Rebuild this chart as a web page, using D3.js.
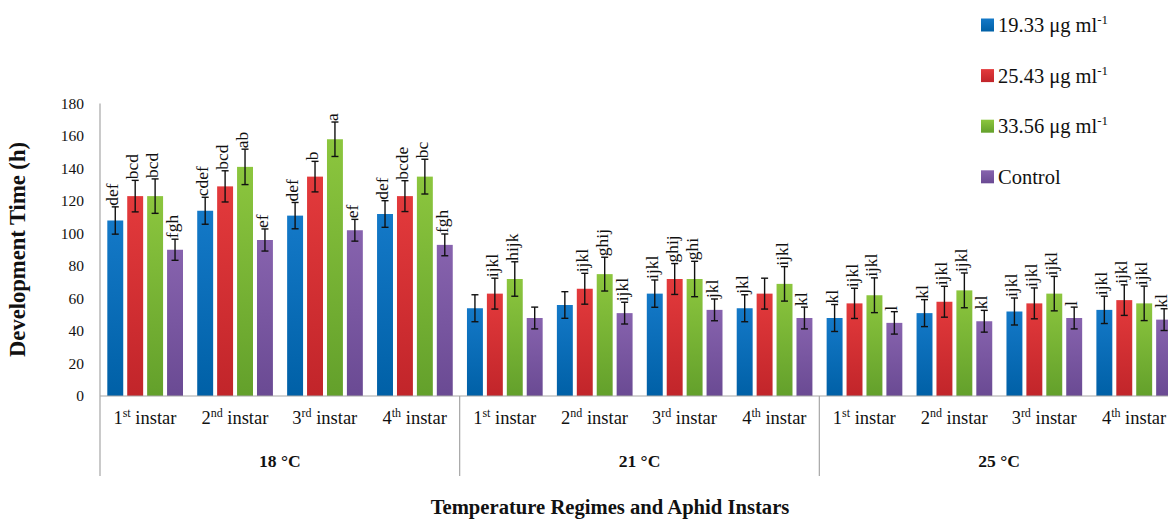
<!DOCTYPE html>
<html>
<head>
<meta charset="utf-8">
<script src="https://cdn.jsdelivr.net/npm/d3@7"></script>
<style>
  body { margin: 0; background: #fff; }
  svg text { fill: #111; }
</style>
</head>
<body>
<div id="chart"></div>
<script>
// temperature regimes and instars (x categories)
var temps = ["18 °C", "21 °C", "25 °C"];
var instarNum = ["1", "2", "3", "4"];
var instarSup = ["st", "nd", "rd", "th"];
var seriesNames = ["19.33 μg ml", "25.43 μg ml", "33.56 μg ml", "Control"];
var seriesSup = ["-1", "-1", "-1", ""];
var yTicks = [0, 20, 40, 60, 80, 100, 120, 140, 160, 180];

// mean development time (h), 12 categories each
var conc1 = [108, 114, 111, 112, 54, 56, 63, 54, 48, 51, 52, 53];
var conc2 = [123, 129, 135, 123, 63, 66, 72, 63, 57, 58, 57, 59];
var conc3 = [123, 141, 158, 135, 72, 75, 72, 69, 62, 65, 63, 57];
var control = [90, 96, 102, 93, 48, 51, 53, 48, 45, 46, 48, 47];

// error bar half widths
var err1 = [8.4, 8.3, 8.1, 8.2, 8.3, 8.2, 8.4, 8.3, 8.3, 8.3, 8.3, 8.4];
var err2 = [9.7, 9.6, 9.4, 9.5, 9.5, 9.5, 9.5, 9.5, 9.3, 9.5, 9.5, 9.4];
var err3 = [10.6, 10.9, 10.6, 10.7, 10.6, 10.4, 10.9, 10.6, 10.7, 10.7, 10.6, 10.6];
var errC = [6.5, 6.8, 6.7, 6.7, 6.7, 6.7, 6.7, 6.7, 6.9, 6.7, 6.7, 6.7];

// significance letters
var let1 = ["def", "cdef", "def", "def", "", "", "ijkl", "jkl", "kl", "kl", "ijkl", "ijkl"];
var let2 = ["bcd", "bcd", "b", "bcde", "ijkl", "ijkl", "ghij", "", "ijkl", "ijkl", "ijkl", "ijkl"];
var let3 = ["bcd", "ab", "a", "bc", "hijk", "ghij", "ghi", "ijkl", "ijkl", "ijkl", "ijkl", "ijkl"];
var letC = ["fgh", "ef", "ef", "fgh", "", "ijkl", "jkl", "kl", "l", "kl", "l", "kl"];

(function() {
    var width = 1168;
    var height = 520;
    var left = 100;
    var right = 1179;
    var serif = "'Liberation Serif', 'Times New Roman', serif";

    var values = [conc1, conc2, conc3, control];
    var errors = [err1, err2, err3, errC];
    var letters = [let1, let2, let3, letC];
    var colorsTop = ["#1479c8", "#e33a3c", "#8cc63e", "#8763ae"];
    var colorsBottom = ["#0060a6", "#c1252a", "#63a02b", "#6a4a93"];

    // build one row per category
    var cats = [];
    temps.forEach((t, ti) => {
        instarNum.forEach((n, ii) => {
            cats.push({temp: t, num: n, sup: instarSup[ii], idx: ti * 4 + ii});
        });
    });

    var svg = d3.select("#chart")
        .append("svg")
        .attr("width", width)
        .attr("height", height)
        .attr("font-family", serif);

    // shrink / grow a bold label so it spans the same width as in the figure
    function fitWidth(sel, target) {
        sel.each(function() {
            var base = parseFloat(this.getAttribute("font-size"));
            var len = this.getComputedTextLength();
            if (len > 0) this.setAttribute("font-size", (base * target / len).toFixed(2) + "px");
        });
    }

    var defs = svg.append("defs");
    seriesNames.forEach((s, i) => {
        var g = defs.append("linearGradient")
            .attr("id", "grad" + i)
            .attr("x1", 0).attr("y1", 0).attr("x2", 0).attr("y2", 1);
        g.append("stop").attr("offset", "0%").attr("stop-color", colorsTop[i]);
        g.append("stop").attr("offset", "100%").attr("stop-color", colorsBottom[i]);
    });

    // scales
    var x0 = d3.scaleBand()
        .domain(d3.range(cats.length))
        .range([left, right])
        .padding(0);

    var x1 = d3.scaleBand()
        .domain(d3.range(seriesNames.length))
        .range([7.3, 83])
        .paddingInner(0.2);

    var y = d3.scaleLinear()
        .domain([0, 180])
        .range([396, 103.5]);

    var tempScale = d3.scaleBand()
        .domain(temps)
        .range([left, right]);

    // bars
    var bars = [];
    values.forEach((vals, si) => {
        vals.forEach((v, ci) => {
            bars.push({s: si, c: ci, v: v, e: errors[si][ci], l: letters[si][ci]});
        });
    });

    var groups = svg.append("g")
        .selectAll("g")
        .data(bars)
        .join("g")
        .attr("transform", d => `translate(${x0(d.c) + x1(d.s)}, 0)`);

    groups.append("rect")
        .attr("x", 0)
        .attr("y", d => y(d.v))
        .attr("width", x1.bandwidth())
        .attr("height", d => y(0) - y(d.v))
        .attr("fill", d => `url(#grad${d.s})`);

    // error bars
    var cx = x1.bandwidth() / 2;
    groups.append("line")
        .attr("x1", cx).attr("x2", cx)
        .attr("y1", d => y(d.v + d.e))
        .attr("y2", d => y(d.v - d.e))
        .attr("stroke", "#111")
        .attr("stroke-width", 1.4);
    groups.selectAll(".cap")
        .data(d => [d.v + d.e, d.v - d.e])
        .join("line")
        .attr("class", "cap")
        .attr("x1", cx - 3.5).attr("x2", cx + 3.5)
        .attr("y1", d => y(d))
        .attr("y2", d => y(d))
        .attr("stroke", "#111")
        .attr("stroke-width", 1.4);

    // letters, rotated
    groups.append("text")
        .attr("transform", d => `translate(${cx + 3}, ${y(d.v + d.e) - 1}) rotate(-90)`)
        .attr("font-size", "17.5px")
        .text(d => d.l);

    // y axis
    svg.append("line")
        .attr("x1", left).attr("x2", left)
        .attr("y1", y(180)).attr("y2", y(0))
        .attr("stroke", "#a6a6a6")
        .attr("stroke-width", 1.2);

    svg.append("g")
        .selectAll("text")
        .data(yTicks)
        .join("text")
        .attr("x", 84)
        .attr("y", d => y(d) + 5)
        .attr("text-anchor", "end")
        .attr("font-size", "15.5px")
        .text(d => d);

    var yTitle = svg.append("text")
        .attr("transform", `translate(25, 249.5) rotate(-90)`)
        .attr("text-anchor", "middle")
        .attr("font-weight", "bold")
        .attr("font-size", "21px")
        .text("Development Time (h)");
    fitWidth(yTitle, 215);

    // x axis
    svg.append("line")
        .attr("x1", left).attr("x2", right)
        .attr("y1", y(0)).attr("y2", y(0))
        .attr("stroke", "#a6a6a6")
        .attr("stroke-width", 1.2);

    svg.append("g")
        .selectAll("line")
        .data(temps.concat(["end"]))
        .join("line")
        .attr("x1", (d, i) => left + i * tempScale.bandwidth())
        .attr("x2", (d, i) => left + i * tempScale.bandwidth())
        .attr("y1", y(0))
        .attr("y2", 476)
        .attr("stroke", "#a6a6a6")
        .attr("stroke-width", 1.2);

    var catLabels = svg.append("g")
        .selectAll("text")
        .data(cats)
        .join("text")
        .attr("x", d => x0(d.idx) + x0.bandwidth() / 2)
        .attr("y", 423.5)
        .attr("text-anchor", "middle")
        .attr("font-size", "18.5px");
    catLabels.append("tspan").text(d => d.num);
    catLabels.append("tspan")
        .attr("dy", -6.5)
        .attr("font-size", "12px")
        .text(d => d.sup);
    catLabels.append("tspan")
        .attr("dy", 6.5)
        .text(" instar");

    var tempLabels = svg.append("g")
        .selectAll("text")
        .data(temps)
        .join("text")
        .attr("x", d => tempScale(d) + tempScale.bandwidth() / 2)
        .attr("y", 466.5)
        .attr("text-anchor", "middle")
        .attr("font-weight", "bold")
        .attr("font-size", "17px")
        .text(d => d);
    fitWidth(tempLabels, 41.7);

    var xTitle = svg.append("text")
        .attr("x", 610)
        .attr("y", 514)
        .attr("text-anchor", "middle")
        .attr("font-weight", "bold")
        .attr("font-size", "20px")
        .text("Temperature Regimes and Aphid Instars");
    fitWidth(xTitle, 359);

    // legend
    var legend = svg.append("g")
        .selectAll("g")
        .data(seriesNames)
        .join("g")
        .attr("transform", (d, i) => `translate(981, ${25 + i * 50.6})`);

    legend.append("rect")
        .attr("x", 0).attr("y", -6.5)
        .attr("width", 13).attr("height", 13)
        .attr("fill", (d, i) => `url(#grad${i})`);

    var legText = legend.append("text")
        .attr("x", 17)
        .attr("y", 7)
        .attr("font-size", "20.5px");
    legText.append("tspan").text(d => d);
    legText.append("tspan")
        .attr("dy", -8)
        .attr("font-size", "13px")
        .text((d, i) => seriesSup[i]);
})();
</script>
</body>
</html>
